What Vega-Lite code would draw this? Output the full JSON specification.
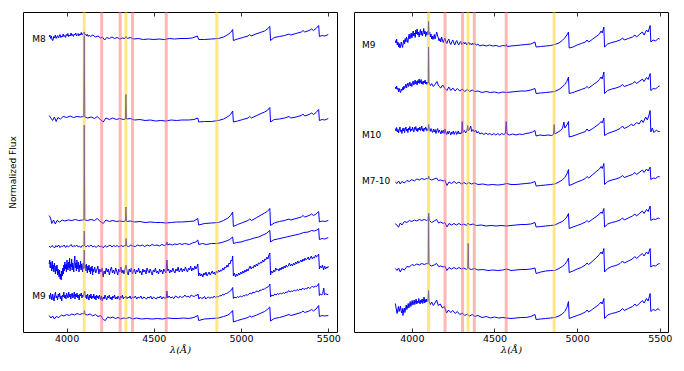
{
"$schema":"https://vega.github.io/schema/vega-lite/v6.json",
"background":"white",
"padding":{"left":7,"top":10,"right":5,"bottom":5},
"spacing":17,
"bounds":"flush",
"config":{"view":{"stroke":"black","strokeWidth":1},"font":"DejaVu Sans"},
"datasets":{
"bands":[{"w":4101,"k":"H"},{"w":4340,"k":"H"},{"w":4861,"k":"H"},{"w":4201,"k":"X"},{"w":4307,"k":"X"},{"w":4378,"k":"X"},{"w":4571,"k":"X"}],
"labL":[{"t":"M8","w":3880,"f":293.3},{"t":"M9","w":3880,"f":35.7}],
"labR":[{"t":"M9","w":3698,"f":286.7},{"t":"M10","w":3698,"f":196.7},{"t":"M7-10","w":3698,"f":151}],
"L":[
{"s":1,"w":3900,"f":295},{"s":1,"w":3904,"f":297},{"s":1,"w":3909,"f":293.5},{"s":1,"w":3913,"f":296},{"s":1,"w":3917,"f":292},{"s":1,"w":3922,"f":291.5},{"s":1,"w":3926,"f":295.5},{"s":1,"w":3931,"f":294},{"s":1,"w":3935,"f":297},{"s":1,"w":3940,"f":293.5},{"s":1,"w":3944,"f":295},{"s":1,"w":3949,"f":296.5},{"s":1,"w":3953,"f":294},{"s":1,"w":3958,"f":295.5},{"s":1,"w":3962,"f":297.5},{"s":1,"w":3967,"f":294.5},{"s":1,"w":3971,"f":296},{"s":1,"w":3976,"f":295},{"s":1,"w":3980,"f":298},{"s":1,"w":3985,"f":295.5},{"s":1,"w":3989,"f":296.5},{"s":1,"w":3994,"f":294.5},{"s":1,"w":3998,"f":297.5},{"s":1,"w":4003,"f":296},{"s":1,"w":4007,"f":298.5},{"s":1,"w":4012,"f":295.5},{"s":1,"w":4016,"f":297},{"s":1,"w":4021,"f":296},{"s":1,"w":4025,"f":299},{"s":1,"w":4030,"f":296.5},{"s":1,"w":4034,"f":297.5},{"s":1,"w":4039,"f":295.5},{"s":1,"w":4043,"f":298},{"s":1,"w":4048,"f":297},{"s":1,"w":4052,"f":299},{"s":1,"w":4057,"f":296},{"s":1,"w":4061,"f":297.5},{"s":1,"w":4066,"f":298.5},{"s":1,"w":4070,"f":296},{"s":1,"w":4075,"f":298},{"s":1,"w":4079,"f":297},{"s":1,"w":4084,"f":299.5},{"s":1,"w":4088,"f":297},{"s":1,"w":4093,"f":298},{"s":1,"w":4097,"f":299.5},{"s":1,"w":4101,"f":300},{"s":1,"w":4105,"f":297},{"s":1,"w":4110,"f":298},{"s":1,"w":4114,"f":296},{"s":1,"w":4119,"f":297.5},{"s":1,"w":4124,"f":295.5},{"s":1,"w":4130,"f":297},{"s":1,"w":4137,"f":295.5},{"s":1,"w":4150,"f":297},{"s":1,"w":4165,"f":295},{"s":1,"w":4180,"f":296},{"s":1,"w":4195,"f":294},{"s":1,"w":4205,"f":295},{"s":1,"w":4218,"f":292},{"s":1,"w":4230,"f":294.5},{"s":1,"w":4245,"f":293.5},{"s":1,"w":4260,"f":295},{"s":1,"w":4275,"f":293.5},{"s":1,"w":4290,"f":294.5},{"s":1,"w":4305,"f":293},{"s":1,"w":4320,"f":294},{"s":1,"w":4335,"f":293.5},{"s":1,"w":4341,"f":295.5},{"s":1,"w":4348,"f":293.5},{"s":1,"w":4365,"f":294.5},{"s":1,"w":4385,"f":293},{"s":1,"w":4410,"f":293.5},{"s":1,"w":4440,"f":292.5},{"s":1,"w":4470,"f":293},{"s":1,"w":4500,"f":292.5},{"s":1,"w":4530,"f":293},{"s":1,"w":4560,"f":292.5},{"s":1,"w":4590,"f":293.5},{"s":1,"w":4620,"f":293},{"s":1,"w":4650,"f":293.5},{"s":1,"w":4690,"f":293.5},{"s":1,"w":4720,"f":294},{"s":1,"w":4750,"f":296},{"s":1,"w":4757,"f":292.5},{"s":1,"w":4790,"f":292.5},{"s":1,"w":4830,"f":293},{"s":1,"w":4870,"f":293.5},{"s":1,"w":4900,"f":295},{"s":1,"w":4925,"f":297.5},{"s":1,"w":4940,"f":299.5},{"s":1,"w":4952,"f":302.5},{"s":1,"w":4956,"f":291.5},{"s":1,"w":4980,"f":293},{"s":1,"w":5010,"f":294.5},{"s":1,"w":5040,"f":296},{"s":1,"w":5050,"f":297.5},{"s":1,"w":5058,"f":296},{"s":1,"w":5085,"f":298},{"s":1,"w":5110,"f":299.5},{"s":1,"w":5135,"f":301},{"s":1,"w":5150,"f":303},{"s":1,"w":5165,"f":305.5},{"s":1,"w":5169,"f":291.5},{"s":1,"w":5190,"f":294.5},{"s":1,"w":5220,"f":295.5},{"s":1,"w":5250,"f":296.5},{"s":1,"w":5275,"f":298},{"s":1,"w":5285,"f":297},{"s":1,"w":5315,"f":298.5},{"s":1,"w":5345,"f":300},{"s":1,"w":5355,"f":301.5},{"s":1,"w":5365,"f":300},{"s":1,"w":5390,"f":301.5},{"s":1,"w":5405,"f":303},{"s":1,"w":5415,"f":301.5},{"s":1,"w":5430,"f":303.5},{"s":1,"w":5445,"f":306.5},{"s":1,"w":5449,"f":295.5},{"s":1,"w":5465,"f":296.5},{"s":1,"w":5480,"f":296},{"s":1,"w":5500,"f":297.5},
{"s":2,"w":3900,"f":216.5},{"s":2,"w":3910,"f":214},{"s":2,"w":3920,"f":211.5},{"s":2,"w":3930,"f":215},{"s":2,"w":3940,"f":210.5},{"s":2,"w":3950,"f":214.5},{"s":2,"w":3965,"f":213},{"s":2,"w":3980,"f":215.5},{"s":2,"w":4000,"f":214.5},{"s":2,"w":4020,"f":216},{"s":2,"w":4040,"f":214.5},{"s":2,"w":4060,"f":215.5},{"s":2,"w":4080,"f":215},{"s":2,"w":4098,"f":215.5},{"s":2,"w":4101,"f":296.5},{"s":2,"w":4104,"f":215},{"s":2,"w":4120,"f":214},{"s":2,"w":4140,"f":215},{"s":2,"w":4160,"f":213.5},{"s":2,"w":4175,"f":215.5},{"s":2,"w":4190,"f":213},{"s":2,"w":4210,"f":210},{"s":2,"w":4225,"f":214},{"s":2,"w":4245,"f":212.5},{"s":2,"w":4265,"f":214},{"s":2,"w":4285,"f":212.5},{"s":2,"w":4305,"f":213.5},{"s":2,"w":4325,"f":212.5},{"s":2,"w":4337,"f":213},{"s":2,"w":4340,"f":237.5},{"s":2,"w":4343,"f":213},{"s":2,"w":4365,"f":213.5},{"s":2,"w":4390,"f":212},{"s":2,"w":4420,"f":212.5},{"s":2,"w":4450,"f":211.5},{"s":2,"w":4480,"f":212},{"s":2,"w":4510,"f":211},{"s":2,"w":4540,"f":211.5},{"s":2,"w":4570,"f":211},{"s":2,"w":4600,"f":212},{"s":2,"w":4630,"f":211.5},{"s":2,"w":4660,"f":212},{"s":2,"w":4700,"f":212},{"s":2,"w":4730,"f":212.5},{"s":2,"w":4752,"f":214},{"s":2,"w":4757,"f":210},{"s":2,"w":4790,"f":210.5},{"s":2,"w":4830,"f":210.5},{"s":2,"w":4870,"f":211.5},{"s":2,"w":4900,"f":213},{"s":2,"w":4925,"f":215.5},{"s":2,"w":4940,"f":217.5},{"s":2,"w":4952,"f":221},{"s":2,"w":4956,"f":210},{"s":2,"w":4980,"f":211},{"s":2,"w":5010,"f":212.5},{"s":2,"w":5040,"f":214},{"s":2,"w":5050,"f":215.5},{"s":2,"w":5060,"f":214},{"s":2,"w":5090,"f":216.5},{"s":2,"w":5115,"f":218.5},{"s":2,"w":5135,"f":220},{"s":2,"w":5150,"f":221.5},{"s":2,"w":5165,"f":224.5},{"s":2,"w":5169,"f":210},{"s":2,"w":5190,"f":212.5},{"s":2,"w":5220,"f":213},{"s":2,"w":5250,"f":214},{"s":2,"w":5275,"f":215.5},{"s":2,"w":5285,"f":214},{"s":2,"w":5315,"f":215},{"s":2,"w":5345,"f":216.5},{"s":2,"w":5355,"f":218},{"s":2,"w":5365,"f":216},{"s":2,"w":5390,"f":217.5},{"s":2,"w":5405,"f":219},{"s":2,"w":5415,"f":217.5},{"s":2,"w":5430,"f":219.5},{"s":2,"w":5445,"f":222.5},{"s":2,"w":5449,"f":211.5},{"s":2,"w":5465,"f":212.5},{"s":2,"w":5480,"f":212},{"s":2,"w":5500,"f":213.5},
{"s":3,"w":3900,"f":116.5},{"s":3,"w":3908,"f":114},{"s":3,"w":3915,"f":108.5},{"s":3,"w":3925,"f":112},{"s":3,"w":3935,"f":108},{"s":3,"w":3945,"f":111.5},{"s":3,"w":3960,"f":110},{"s":3,"w":3975,"f":112},{"s":3,"w":3990,"f":111},{"s":3,"w":4010,"f":112},{"s":3,"w":4030,"f":111.5},{"s":3,"w":4050,"f":112.5},{"s":3,"w":4070,"f":111.5},{"s":3,"w":4090,"f":112},{"s":3,"w":4099,"f":112},{"s":3,"w":4101,"f":207},{"s":3,"w":4104,"f":112},{"s":3,"w":4120,"f":111.5},{"s":3,"w":4140,"f":112.5},{"s":3,"w":4160,"f":111.5},{"s":3,"w":4175,"f":113.5},{"s":3,"w":4190,"f":111},{"s":3,"w":4210,"f":108.5},{"s":3,"w":4225,"f":112},{"s":3,"w":4245,"f":110.5},{"s":3,"w":4265,"f":111.5},{"s":3,"w":4285,"f":110.5},{"s":3,"w":4305,"f":111},{"s":3,"w":4325,"f":110.5},{"s":3,"w":4337,"f":111},{"s":3,"w":4340,"f":125},{"s":3,"w":4343,"f":110.5},{"s":3,"w":4365,"f":111},{"s":3,"w":4390,"f":110},{"s":3,"w":4420,"f":110.5},{"s":3,"w":4450,"f":109.5},{"s":3,"w":4480,"f":110},{"s":3,"w":4510,"f":109.5},{"s":3,"w":4540,"f":109.5},{"s":3,"w":4570,"f":109},{"s":3,"w":4600,"f":109.5},{"s":3,"w":4630,"f":110},{"s":3,"w":4660,"f":110},{"s":3,"w":4700,"f":110.5},{"s":3,"w":4730,"f":111},{"s":3,"w":4752,"f":113.5},{"s":3,"w":4757,"f":107},{"s":3,"w":4790,"f":108.5},{"s":3,"w":4830,"f":109},{"s":3,"w":4870,"f":109.5},{"s":3,"w":4900,"f":111.5},{"s":3,"w":4925,"f":114},{"s":3,"w":4940,"f":116.5},{"s":3,"w":4952,"f":120},{"s":3,"w":4956,"f":105.5},{"s":3,"w":4980,"f":107.5},{"s":3,"w":5010,"f":109.5},{"s":3,"w":5040,"f":111.5},{"s":3,"w":5050,"f":113},{"s":3,"w":5060,"f":111.5},{"s":3,"w":5090,"f":114.5},{"s":3,"w":5115,"f":117},{"s":3,"w":5135,"f":119},{"s":3,"w":5150,"f":120.5},{"s":3,"w":5165,"f":123.5},{"s":3,"w":5169,"f":106.5},{"s":3,"w":5190,"f":109},{"s":3,"w":5220,"f":110.5},{"s":3,"w":5250,"f":111.5},{"s":3,"w":5275,"f":113},{"s":3,"w":5285,"f":112},{"s":3,"w":5315,"f":113.5},{"s":3,"w":5345,"f":115},{"s":3,"w":5355,"f":116.5},{"s":3,"w":5365,"f":115},{"s":3,"w":5390,"f":116.5},{"s":3,"w":5405,"f":118},{"s":3,"w":5415,"f":116.5},{"s":3,"w":5430,"f":118},{"s":3,"w":5445,"f":120.5},{"s":3,"w":5449,"f":110},{"s":3,"w":5465,"f":111},{"s":3,"w":5480,"f":110.5},{"s":3,"w":5500,"f":111.5},
{"s":4,"w":3900,"f":86},{"s":4,"w":3908,"f":84.5},{"s":4,"w":3916,"f":86.5},{"s":4,"w":3923,"f":85.5},{"s":4,"w":3931,"f":84},{"s":4,"w":3938,"f":86.5},{"s":4,"w":3946,"f":85},{"s":4,"w":3954,"f":87},{"s":4,"w":3962,"f":84.5},{"s":4,"w":3970,"f":86},{"s":4,"w":3978,"f":85.5},{"s":4,"w":3986,"f":87},{"s":4,"w":3994,"f":84.5},{"s":4,"w":4002,"f":86.5},{"s":4,"w":4010,"f":85},{"s":4,"w":4018,"f":86},{"s":4,"w":4026,"f":87.5},{"s":4,"w":4034,"f":85},{"s":4,"w":4042,"f":86.5},{"s":4,"w":4050,"f":85.5},{"s":4,"w":4058,"f":87},{"s":4,"w":4066,"f":85},{"s":4,"w":4074,"f":86},{"s":4,"w":4082,"f":84.5},{"s":4,"w":4090,"f":86.5},{"s":4,"w":4096,"f":85.5},{"s":4,"w":4099,"f":86},{"s":4,"w":4101,"f":101},{"s":4,"w":4104,"f":86},{"s":4,"w":4112,"f":85},{"s":4,"w":4120,"f":86.5},{"s":4,"w":4130,"f":85.5},{"s":4,"w":4140,"f":87},{"s":4,"w":4150,"f":85},{"s":4,"w":4160,"f":86},{"s":4,"w":4170,"f":84.5},{"s":4,"w":4180,"f":86.5},{"s":4,"w":4190,"f":85.5},{"s":4,"w":4200,"f":86},{"s":4,"w":4210,"f":84},{"s":4,"w":4220,"f":86.5},{"s":4,"w":4230,"f":85},{"s":4,"w":4240,"f":86},{"s":4,"w":4250,"f":87},{"s":4,"w":4260,"f":85},{"s":4,"w":4270,"f":86.5},{"s":4,"w":4280,"f":85.5},{"s":4,"w":4290,"f":86.5},{"s":4,"w":4300,"f":85},{"s":4,"w":4312,"f":86.5},{"s":4,"w":4324,"f":85.5},{"s":4,"w":4334,"f":86.5},{"s":4,"w":4338,"f":86},{"s":4,"w":4341,"f":93.5},{"s":4,"w":4344,"f":86},{"s":4,"w":4356,"f":85.5},{"s":4,"w":4368,"f":87},{"s":4,"w":4380,"f":86},{"s":4,"w":4394,"f":85.5},{"s":4,"w":4408,"f":87},{"s":4,"w":4420,"f":86},{"s":4,"w":4434,"f":87},{"s":4,"w":4448,"f":85.5},{"s":4,"w":4462,"f":87},{"s":4,"w":4476,"f":86},{"s":4,"w":4490,"f":87.5},{"s":4,"w":4504,"f":86.5},{"s":4,"w":4518,"f":87},{"s":4,"w":4532,"f":86},{"s":4,"w":4546,"f":87.5},{"s":4,"w":4560,"f":86.5},{"s":4,"w":4572,"f":87.5},{"s":4,"w":4575,"f":90},{"s":4,"w":4578,"f":87},{"s":4,"w":4592,"f":88},{"s":4,"w":4606,"f":87},{"s":4,"w":4620,"f":88},{"s":4,"w":4634,"f":87.5},{"s":4,"w":4648,"f":88.5},{"s":4,"w":4662,"f":87.5},{"s":4,"w":4676,"f":88.5},{"s":4,"w":4690,"f":88},{"s":4,"w":4704,"f":87.5},{"s":4,"w":4720,"f":89},{"s":4,"w":4740,"f":90},{"s":4,"w":4752,"f":92},{"s":4,"w":4757,"f":87.5},{"s":4,"w":4780,"f":88.5},{"s":4,"w":4800,"f":87.5},{"s":4,"w":4830,"f":88.5},{"s":4,"w":4860,"f":88.5},{"s":4,"w":4890,"f":89.5},{"s":4,"w":4915,"f":91},{"s":4,"w":4935,"f":92.5},{"s":4,"w":4952,"f":95},{"s":4,"w":4956,"f":88.5},{"s":4,"w":4975,"f":89.5},{"s":4,"w":5000,"f":90},{"s":4,"w":5025,"f":91.5},{"s":4,"w":5050,"f":92.5},{"s":4,"w":5075,"f":94},{"s":4,"w":5100,"f":95},{"s":4,"w":5125,"f":97},{"s":4,"w":5145,"f":98.5},{"s":4,"w":5165,"f":101.5},{"s":4,"w":5169,"f":90},{"s":4,"w":5185,"f":92},{"s":4,"w":5210,"f":93},{"s":4,"w":5235,"f":94},{"s":4,"w":5260,"f":95},{"s":4,"w":5285,"f":96},{"s":4,"w":5310,"f":97},{"s":4,"w":5335,"f":98},{"s":4,"w":5360,"f":99.5},{"s":4,"w":5385,"f":100},{"s":4,"w":5405,"f":101.5},{"s":4,"w":5420,"f":101},{"s":4,"w":5435,"f":102},{"s":4,"w":5445,"f":103.5},{"s":4,"w":5449,"f":92.5},{"s":4,"w":5465,"f":93.5},{"s":4,"w":5480,"f":93},{"s":4,"w":5500,"f":94.5},
{"s":5,"w":3900,"f":68},{"s":5,"w":3903,"f":72},{"s":5,"w":3906,"f":64},{"s":5,"w":3909,"f":70},{"s":5,"w":3912,"f":66},{"s":5,"w":3915,"f":61},{"s":5,"w":3918,"f":71},{"s":5,"w":3921,"f":63},{"s":5,"w":3924,"f":67},{"s":5,"w":3927,"f":60},{"s":5,"w":3930,"f":69},{"s":5,"w":3933,"f":64},{"s":5,"w":3936,"f":58},{"s":5,"w":3939,"f":66},{"s":5,"w":3942,"f":61},{"s":5,"w":3945,"f":67},{"s":5,"w":3948,"f":57},{"s":5,"w":3951,"f":63},{"s":5,"w":3954,"f":59},{"s":5,"w":3957,"f":55},{"s":5,"w":3960,"f":62},{"s":5,"w":3963,"f":53},{"s":5,"w":3966,"f":58},{"s":5,"w":3969,"f":52},{"s":5,"w":3972,"f":61},{"s":5,"w":3975,"f":56},{"s":5,"w":3978,"f":64},{"s":5,"w":3981,"f":58},{"s":5,"w":3984,"f":67},{"s":5,"w":3987,"f":61},{"s":5,"w":3990,"f":70},{"s":5,"w":3993,"f":63},{"s":5,"w":3996,"f":68},{"s":5,"w":3999,"f":60},{"s":5,"w":4002,"f":72},{"s":5,"w":4005,"f":65},{"s":5,"w":4008,"f":62},{"s":5,"w":4011,"f":70},{"s":5,"w":4014,"f":64},{"s":5,"w":4017,"f":74},{"s":5,"w":4020,"f":61},{"s":5,"w":4023,"f":68},{"s":5,"w":4026,"f":65},{"s":5,"w":4029,"f":73},{"s":5,"w":4032,"f":62},{"s":5,"w":4035,"f":69},{"s":5,"w":4038,"f":66},{"s":5,"w":4041,"f":60},{"s":5,"w":4044,"f":71},{"s":5,"w":4047,"f":76},{"s":5,"w":4050,"f":64},{"s":5,"w":4053,"f":69},{"s":5,"w":4056,"f":61},{"s":5,"w":4059,"f":72},{"s":5,"w":4062,"f":66},{"s":5,"w":4065,"f":63},{"s":5,"w":4068,"f":70},{"s":5,"w":4071,"f":60},{"s":5,"w":4074,"f":67},{"s":5,"w":4077,"f":64},{"s":5,"w":4080,"f":71},{"s":5,"w":4083,"f":62},{"s":5,"w":4086,"f":68},{"s":5,"w":4089,"f":65},{"s":5,"w":4092,"f":60},{"s":5,"w":4095,"f":69},{"s":5,"w":4098,"f":63},{"s":5,"w":4101,"f":82},{"s":5,"w":4104,"f":64},{"s":5,"w":4107,"f":67},{"s":5,"w":4110,"f":61},{"s":5,"w":4113,"f":68},{"s":5,"w":4116,"f":63},{"s":5,"w":4119,"f":59},{"s":5,"w":4122,"f":66},{"s":5,"w":4125,"f":62},{"s":5,"w":4128,"f":67},{"s":5,"w":4131,"f":60},{"s":5,"w":4134,"f":64},{"s":5,"w":4137,"f":58},{"s":5,"w":4140,"f":65},{"s":5,"w":4143,"f":61},{"s":5,"w":4146,"f":66},{"s":5,"w":4149,"f":57},{"s":5,"w":4152,"f":63},{"s":5,"w":4155,"f":60},{"s":5,"w":4161,"f":65},{"s":5,"w":4167,"f":59},{"s":5,"w":4173,"f":62},{"s":5,"w":4179,"f":66},{"s":5,"w":4185,"f":58},{"s":5,"w":4191,"f":63},{"s":5,"w":4197,"f":60},{"s":5,"w":4203,"f":64},{"s":5,"w":4209,"f":55},{"s":5,"w":4215,"f":61},{"s":5,"w":4221,"f":58},{"s":5,"w":4227,"f":64},{"s":5,"w":4233,"f":60},{"s":5,"w":4239,"f":63},{"s":5,"w":4245,"f":57},{"s":5,"w":4251,"f":62},{"s":5,"w":4257,"f":65},{"s":5,"w":4263,"f":59},{"s":5,"w":4269,"f":62},{"s":5,"w":4275,"f":58},{"s":5,"w":4281,"f":64},{"s":5,"w":4287,"f":61},{"s":5,"w":4293,"f":57},{"s":5,"w":4299,"f":63},{"s":5,"w":4305,"f":60},{"s":5,"w":4311,"f":65},{"s":5,"w":4317,"f":59},{"s":5,"w":4323,"f":62},{"s":5,"w":4329,"f":58},{"s":5,"w":4335,"f":63},{"s":5,"w":4341,"f":67},{"s":5,"w":4347,"f":60},{"s":5,"w":4353,"f":57},{"s":5,"w":4359,"f":63},{"s":5,"w":4365,"f":60},{"s":5,"w":4371,"f":64},{"s":5,"w":4377,"f":58},{"s":5,"w":4383,"f":61},{"s":5,"w":4389,"f":63},{"s":5,"w":4395,"f":58},{"s":5,"w":4401,"f":62},{"s":5,"w":4407,"f":60},{"s":5,"w":4413,"f":64},{"s":5,"w":4419,"f":59},{"s":5,"w":4425,"f":61},{"s":5,"w":4431,"f":57},{"s":5,"w":4437,"f":63},{"s":5,"w":4443,"f":60},{"s":5,"w":4449,"f":62},{"s":5,"w":4455,"f":58},{"s":5,"w":4461,"f":64},{"s":5,"w":4467,"f":61},{"s":5,"w":4473,"f":59},{"s":5,"w":4479,"f":63},{"s":5,"w":4485,"f":60},{"s":5,"w":4491,"f":57},{"s":5,"w":4497,"f":62},{"s":5,"w":4503,"f":60},{"s":5,"w":4509,"f":64},{"s":5,"w":4515,"f":59},{"s":5,"w":4521,"f":61},{"s":5,"w":4527,"f":58},{"s":5,"w":4533,"f":63},{"s":5,"w":4539,"f":60},{"s":5,"w":4545,"f":62},{"s":5,"w":4551,"f":58},{"s":5,"w":4557,"f":63},{"s":5,"w":4563,"f":61},{"s":5,"w":4569,"f":59},{"s":5,"w":4575,"f":72},{"s":5,"w":4579,"f":61},{"s":5,"w":4585,"f":63},{"s":5,"w":4591,"f":59},{"s":5,"w":4597,"f":62},{"s":5,"w":4603,"f":60},{"s":5,"w":4609,"f":64},{"s":5,"w":4615,"f":61},{"s":5,"w":4621,"f":59},{"s":5,"w":4627,"f":63},{"s":5,"w":4633,"f":61},{"s":5,"w":4639,"f":65},{"s":5,"w":4645,"f":60},{"s":5,"w":4651,"f":62},{"s":5,"w":4657,"f":64},{"s":5,"w":4663,"f":60},{"s":5,"w":4669,"f":63},{"s":5,"w":4675,"f":61},{"s":5,"w":4681,"f":65},{"s":5,"w":4687,"f":62},{"s":5,"w":4693,"f":60},{"s":5,"w":4699,"f":64},{"s":5,"w":4705,"f":62},{"s":5,"w":4711,"f":66},{"s":5,"w":4717,"f":61},{"s":5,"w":4723,"f":64},{"s":5,"w":4729,"f":62},{"s":5,"w":4735,"f":66},{"s":5,"w":4741,"f":63},{"s":5,"w":4747,"f":65},{"s":5,"w":4752,"f":68},{"s":5,"w":4757,"f":56},{"s":5,"w":4763,"f":59},{"s":5,"w":4769,"f":56},{"s":5,"w":4775,"f":58},{"s":5,"w":4781,"f":55},{"s":5,"w":4787,"f":59},{"s":5,"w":4793,"f":57},{"s":5,"w":4799,"f":60},{"s":5,"w":4805,"f":56},{"s":5,"w":4811,"f":58},{"s":5,"w":4817,"f":60},{"s":5,"w":4823,"f":57},{"s":5,"w":4829,"f":59},{"s":5,"w":4835,"f":61},{"s":5,"w":4841,"f":58},{"s":5,"w":4847,"f":60},{"s":5,"w":4853,"f":57},{"s":5,"w":4859,"f":61},{"s":5,"w":4865,"f":59},{"s":5,"w":4871,"f":62},{"s":5,"w":4877,"f":60},{"s":5,"w":4883,"f":62},{"s":5,"w":4889,"f":61},{"s":5,"w":4895,"f":64},{"s":5,"w":4901,"f":62},{"s":5,"w":4907,"f":65},{"s":5,"w":4913,"f":64},{"s":5,"w":4919,"f":67},{"s":5,"w":4925,"f":65},{"s":5,"w":4931,"f":69},{"s":5,"w":4937,"f":68},{"s":5,"w":4943,"f":72},{"s":5,"w":4948,"f":71},{"s":5,"w":4952,"f":76},{"s":5,"w":4956,"f":56},{"s":5,"w":4962,"f":59},{"s":5,"w":4968,"f":55},{"s":5,"w":4974,"f":58},{"s":5,"w":4980,"f":56},{"s":5,"w":4986,"f":59},{"s":5,"w":4992,"f":57},{"s":5,"w":4998,"f":60},{"s":5,"w":5004,"f":58},{"s":5,"w":5010,"f":61},{"s":5,"w":5016,"f":59},{"s":5,"w":5022,"f":62},{"s":5,"w":5028,"f":60},{"s":5,"w":5034,"f":63},{"s":5,"w":5040,"f":61},{"s":5,"w":5046,"f":64},{"s":5,"w":5052,"f":66},{"s":5,"w":5058,"f":63},{"s":5,"w":5064,"f":65},{"s":5,"w":5070,"f":64},{"s":5,"w":5076,"f":67},{"s":5,"w":5082,"f":65},{"s":5,"w":5088,"f":68},{"s":5,"w":5094,"f":66},{"s":5,"w":5100,"f":69},{"s":5,"w":5106,"f":68},{"s":5,"w":5112,"f":70},{"s":5,"w":5118,"f":69},{"s":5,"w":5124,"f":72},{"s":5,"w":5130,"f":70},{"s":5,"w":5136,"f":73},{"s":5,"w":5142,"f":72},{"s":5,"w":5148,"f":75},{"s":5,"w":5154,"f":73},{"s":5,"w":5160,"f":77},{"s":5,"w":5165,"f":79},{"s":5,"w":5169,"f":57},{"s":5,"w":5175,"f":61},{"s":5,"w":5181,"f":59},{"s":5,"w":5187,"f":62},{"s":5,"w":5193,"f":60},{"s":5,"w":5199,"f":64},{"s":5,"w":5205,"f":62},{"s":5,"w":5211,"f":63},{"s":5,"w":5217,"f":61},{"s":5,"w":5223,"f":64},{"s":5,"w":5229,"f":62},{"s":5,"w":5235,"f":65},{"s":5,"w":5241,"f":63},{"s":5,"w":5247,"f":66},{"s":5,"w":5253,"f":64},{"s":5,"w":5259,"f":67},{"s":5,"w":5265,"f":65},{"s":5,"w":5271,"f":66},{"s":5,"w":5277,"f":69},{"s":5,"w":5283,"f":66},{"s":5,"w":5289,"f":68},{"s":5,"w":5295,"f":66},{"s":5,"w":5301,"f":69},{"s":5,"w":5307,"f":67},{"s":5,"w":5313,"f":70},{"s":5,"w":5319,"f":68},{"s":5,"w":5325,"f":71},{"s":5,"w":5331,"f":69},{"s":5,"w":5337,"f":70},{"s":5,"w":5343,"f":72},{"s":5,"w":5349,"f":70},{"s":5,"w":5355,"f":73},{"s":5,"w":5361,"f":71},{"s":5,"w":5367,"f":74},{"s":5,"w":5373,"f":72},{"s":5,"w":5379,"f":73},{"s":5,"w":5385,"f":75},{"s":5,"w":5391,"f":72},{"s":5,"w":5397,"f":74},{"s":5,"w":5403,"f":76},{"s":5,"w":5409,"f":73},{"s":5,"w":5415,"f":75},{"s":5,"w":5421,"f":74},{"s":5,"w":5427,"f":77},{"s":5,"w":5433,"f":75},{"s":5,"w":5439,"f":76},{"s":5,"w":5445,"f":78},{"s":5,"w":5449,"f":63},{"s":5,"w":5455,"f":66},{"s":5,"w":5461,"f":64},{"s":5,"w":5467,"f":67},{"s":5,"w":5473,"f":62},{"s":5,"w":5479,"f":66},{"s":5,"w":5485,"f":63},{"s":5,"w":5491,"f":65},{"s":5,"w":5496,"f":64},{"s":5,"w":5500,"f":66},
{"s":6,"w":3900,"f":37},{"s":6,"w":3904,"f":33},{"s":6,"w":3908,"f":39},{"s":6,"w":3912,"f":35},{"s":6,"w":3916,"f":32},{"s":6,"w":3920,"f":38},{"s":6,"w":3924,"f":34},{"s":6,"w":3928,"f":31},{"s":6,"w":3932,"f":37},{"s":6,"w":3936,"f":40},{"s":6,"w":3940,"f":34},{"s":6,"w":3944,"f":36},{"s":6,"w":3948,"f":32},{"s":6,"w":3952,"f":38},{"s":6,"w":3956,"f":35},{"s":6,"w":3960,"f":39},{"s":6,"w":3964,"f":33},{"s":6,"w":3968,"f":36},{"s":6,"w":3972,"f":31},{"s":6,"w":3976,"f":37},{"s":6,"w":3980,"f":35},{"s":6,"w":3984,"f":40},{"s":6,"w":3988,"f":34},{"s":6,"w":3992,"f":37},{"s":6,"w":3996,"f":33},{"s":6,"w":4000,"f":39},{"s":6,"w":4004,"f":36},{"s":6,"w":4008,"f":34},{"s":6,"w":4012,"f":40},{"s":6,"w":4016,"f":35},{"s":6,"w":4020,"f":38},{"s":6,"w":4024,"f":33},{"s":6,"w":4028,"f":37},{"s":6,"w":4032,"f":39},{"s":6,"w":4036,"f":34},{"s":6,"w":4040,"f":36},{"s":6,"w":4044,"f":40},{"s":6,"w":4048,"f":33},{"s":6,"w":4052,"f":38},{"s":6,"w":4056,"f":35},{"s":6,"w":4060,"f":39},{"s":6,"w":4064,"f":34},{"s":6,"w":4068,"f":37},{"s":6,"w":4072,"f":32},{"s":6,"w":4076,"f":38},{"s":6,"w":4080,"f":36},{"s":6,"w":4084,"f":39},{"s":6,"w":4088,"f":34},{"s":6,"w":4092,"f":37},{"s":6,"w":4096,"f":35},{"s":6,"w":4100,"f":39},{"s":6,"w":4104,"f":41},{"s":6,"w":4108,"f":34},{"s":6,"w":4112,"f":37},{"s":6,"w":4116,"f":33},{"s":6,"w":4120,"f":38},{"s":6,"w":4124,"f":35},{"s":6,"w":4128,"f":32},{"s":6,"w":4132,"f":37},{"s":6,"w":4136,"f":34},{"s":6,"w":4140,"f":38},{"s":6,"w":4144,"f":33},{"s":6,"w":4148,"f":36},{"s":6,"w":4152,"f":34},{"s":6,"w":4156,"f":38},{"s":6,"w":4160,"f":33},{"s":6,"w":4164,"f":36},{"s":6,"w":4168,"f":32},{"s":6,"w":4172,"f":37},{"s":6,"w":4176,"f":34},{"s":6,"w":4180,"f":36},{"s":6,"w":4184,"f":33},{"s":6,"w":4188,"f":37},{"s":6,"w":4192,"f":35},{"s":6,"w":4196,"f":32},{"s":6,"w":4200,"f":36},{"s":6,"w":4205,"f":31},{"s":6,"w":4210,"f":35},{"s":6,"w":4215,"f":33},{"s":6,"w":4220,"f":37},{"s":6,"w":4225,"f":34},{"s":6,"w":4230,"f":32},{"s":6,"w":4235,"f":36},{"s":6,"w":4240,"f":34},{"s":6,"w":4245,"f":37},{"s":6,"w":4250,"f":33},{"s":6,"w":4255,"f":35},{"s":6,"w":4260,"f":32},{"s":6,"w":4265,"f":36},{"s":6,"w":4270,"f":34},{"s":6,"w":4275,"f":37},{"s":6,"w":4280,"f":33},{"s":6,"w":4285,"f":35},{"s":6,"w":4290,"f":33},{"s":6,"w":4295,"f":36},{"s":6,"w":4300,"f":34},{"s":6,"w":4305,"f":32},{"s":6,"w":4310,"f":36},{"s":6,"w":4315,"f":34},{"s":6,"w":4320,"f":37},{"s":6,"w":4325,"f":33},{"s":6,"w":4330,"f":35},{"s":6,"w":4335,"f":34},{"s":6,"w":4340,"f":36},{"s":6,"w":4346,"f":33},{"s":6,"w":4352,"f":35},{"s":6,"w":4358,"f":34},{"s":6,"w":4364,"f":36},{"s":6,"w":4370,"f":33},{"s":6,"w":4378,"f":35},{"s":6,"w":4386,"f":34},{"s":6,"w":4394,"f":36},{"s":6,"w":4402,"f":33},{"s":6,"w":4410,"f":35},{"s":6,"w":4418,"f":34},{"s":6,"w":4426,"f":36},{"s":6,"w":4434,"f":33},{"s":6,"w":4442,"f":35},{"s":6,"w":4450,"f":34},{"s":6,"w":4458,"f":33},{"s":6,"w":4466,"f":35},{"s":6,"w":4474,"f":34},{"s":6,"w":4482,"f":36},{"s":6,"w":4490,"f":33},{"s":6,"w":4498,"f":35},{"s":6,"w":4506,"f":34},{"s":6,"w":4514,"f":33},{"s":6,"w":4522,"f":35},{"s":6,"w":4530,"f":34},{"s":6,"w":4538,"f":36},{"s":6,"w":4546,"f":33},{"s":6,"w":4554,"f":35},{"s":6,"w":4562,"f":34},{"s":6,"w":4571,"f":34},{"s":6,"w":4575,"f":41},{"s":6,"w":4579,"f":34},{"s":6,"w":4588,"f":36},{"s":6,"w":4597,"f":34},{"s":6,"w":4606,"f":35},{"s":6,"w":4615,"f":33.5},{"s":6,"w":4624,"f":36},{"s":6,"w":4633,"f":35},{"s":6,"w":4642,"f":34},{"s":6,"w":4651,"f":36},{"s":6,"w":4660,"f":34.5},{"s":6,"w":4669,"f":35},{"s":6,"w":4678,"f":37},{"s":6,"w":4687,"f":35},{"s":6,"w":4696,"f":36},{"s":6,"w":4705,"f":34.5},{"s":6,"w":4714,"f":37},{"s":6,"w":4723,"f":36},{"s":6,"w":4732,"f":35.5},{"s":6,"w":4741,"f":37},{"s":6,"w":4748,"f":36.5},{"s":6,"w":4753,"f":38},{"s":6,"w":4758,"f":33},{"s":6,"w":4766,"f":35},{"s":6,"w":4774,"f":33.5},{"s":6,"w":4782,"f":34},{"s":6,"w":4790,"f":35.5},{"s":6,"w":4798,"f":33},{"s":6,"w":4806,"f":34.5},{"s":6,"w":4814,"f":35},{"s":6,"w":4822,"f":33.5},{"s":6,"w":4830,"f":35},{"s":6,"w":4838,"f":34},{"s":6,"w":4846,"f":36},{"s":6,"w":4854,"f":34.5},{"s":6,"w":4862,"f":35.5},{"s":6,"w":4870,"f":35},{"s":6,"w":4878,"f":36.5},{"s":6,"w":4886,"f":36},{"s":6,"w":4894,"f":37.5},{"s":6,"w":4902,"f":37},{"s":6,"w":4910,"f":38.5},{"s":6,"w":4918,"f":38.5},{"s":6,"w":4926,"f":39.5},{"s":6,"w":4934,"f":40.5},{"s":6,"w":4942,"f":41.5},{"s":6,"w":4948,"f":43},{"s":6,"w":4952,"f":44.5},{"s":6,"w":4956,"f":33.5},{"s":6,"w":4964,"f":35},{"s":6,"w":4972,"f":34},{"s":6,"w":4980,"f":35.5},{"s":6,"w":4988,"f":34.5},{"s":6,"w":4996,"f":36},{"s":6,"w":5004,"f":35},{"s":6,"w":5012,"f":36.5},{"s":6,"w":5020,"f":36},{"s":6,"w":5028,"f":37.5},{"s":6,"w":5036,"f":36.5},{"s":6,"w":5044,"f":38},{"s":6,"w":5052,"f":39},{"s":6,"w":5060,"f":38},{"s":6,"w":5068,"f":40},{"s":6,"w":5076,"f":39},{"s":6,"w":5084,"f":40.5},{"s":6,"w":5092,"f":41},{"s":6,"w":5100,"f":40},{"s":6,"w":5108,"f":42},{"s":6,"w":5116,"f":41.5},{"s":6,"w":5124,"f":43},{"s":6,"w":5132,"f":42.5},{"s":6,"w":5140,"f":44},{"s":6,"w":5148,"f":44.5},{"s":6,"w":5156,"f":45.5},{"s":6,"w":5162,"f":46.5},{"s":6,"w":5165,"f":48},{"s":6,"w":5169,"f":35},{"s":6,"w":5177,"f":37},{"s":6,"w":5185,"f":36},{"s":6,"w":5193,"f":38},{"s":6,"w":5201,"f":37},{"s":6,"w":5209,"f":38.5},{"s":6,"w":5217,"f":37.5},{"s":6,"w":5225,"f":39},{"s":6,"w":5233,"f":38},{"s":6,"w":5241,"f":39.5},{"s":6,"w":5249,"f":38.5},{"s":6,"w":5257,"f":40},{"s":6,"w":5265,"f":39.5},{"s":6,"w":5273,"f":41.5},{"s":6,"w":5281,"f":40},{"s":6,"w":5289,"f":41},{"s":6,"w":5297,"f":40.5},{"s":6,"w":5305,"f":42},{"s":6,"w":5313,"f":41},{"s":6,"w":5321,"f":42.5},{"s":6,"w":5329,"f":41.5},{"s":6,"w":5337,"f":43},{"s":6,"w":5345,"f":42},{"s":6,"w":5353,"f":44},{"s":6,"w":5361,"f":42.5},{"s":6,"w":5369,"f":43.5},{"s":6,"w":5377,"f":43},{"s":6,"w":5385,"f":45},{"s":6,"w":5393,"f":43.5},{"s":6,"w":5401,"f":44.5},{"s":6,"w":5409,"f":46},{"s":6,"w":5417,"f":44.5},{"s":6,"w":5425,"f":46},{"s":6,"w":5433,"f":45.5},{"s":6,"w":5440,"f":47},{"s":6,"w":5445,"f":48.5},{"s":6,"w":5449,"f":36.5},{"s":6,"w":5456,"f":38},{"s":6,"w":5463,"f":37},{"s":6,"w":5468,"f":38.5},{"s":6,"w":5474,"f":44},{"s":6,"w":5478,"f":37},{"s":6,"w":5485,"f":38.5},{"s":6,"w":5492,"f":37.5},{"s":6,"w":5500,"f":37.5},
{"s":7,"w":3900,"f":16.5},{"s":7,"w":3910,"f":14},{"s":7,"w":3920,"f":16},{"s":7,"w":3930,"f":13},{"s":7,"w":3940,"f":15.5},{"s":7,"w":3955,"f":14.5},{"s":7,"w":3970,"f":17},{"s":7,"w":3985,"f":16},{"s":7,"w":4000,"f":17.5},{"s":7,"w":4015,"f":16.5},{"s":7,"w":4030,"f":18},{"s":7,"w":4045,"f":17},{"s":7,"w":4060,"f":18.5},{"s":7,"w":4075,"f":17.5},{"s":7,"w":4090,"f":18.5},{"s":7,"w":4099,"f":18},{"s":7,"w":4102,"f":21.5},{"s":7,"w":4106,"f":17.5},{"s":7,"w":4120,"f":17},{"s":7,"w":4135,"f":18},{"s":7,"w":4150,"f":16},{"s":7,"w":4165,"f":17.5},{"s":7,"w":4180,"f":15.5},{"s":7,"w":4195,"f":16.5},{"s":7,"w":4210,"f":12.5},{"s":7,"w":4222,"f":11.5},{"s":7,"w":4235,"f":15},{"s":7,"w":4250,"f":14},{"s":7,"w":4265,"f":15},{"s":7,"w":4280,"f":13.5},{"s":7,"w":4295,"f":14.5},{"s":7,"w":4310,"f":13},{"s":7,"w":4325,"f":14},{"s":7,"w":4340,"f":13.5},{"s":7,"w":4360,"f":14.5},{"s":7,"w":4380,"f":13},{"s":7,"w":4400,"f":14},{"s":7,"w":4430,"f":13},{"s":7,"w":4460,"f":13.5},{"s":7,"w":4490,"f":13},{"s":7,"w":4520,"f":13.5},{"s":7,"w":4550,"f":13},{"s":7,"w":4580,"f":14},{"s":7,"w":4610,"f":13.5},{"s":7,"w":4640,"f":13.5},{"s":7,"w":4670,"f":14},{"s":7,"w":4700,"f":13.5},{"s":7,"w":4730,"f":14.5},{"s":7,"w":4752,"f":16.5},{"s":7,"w":4757,"f":11.5},{"s":7,"w":4790,"f":13},{"s":7,"w":4830,"f":13.5},{"s":7,"w":4870,"f":14},{"s":7,"w":4900,"f":15.5},{"s":7,"w":4925,"f":17},{"s":7,"w":4940,"f":19},{"s":7,"w":4952,"f":21.5},{"s":7,"w":4956,"f":10},{"s":7,"w":4980,"f":11.5},{"s":7,"w":5010,"f":13},{"s":7,"w":5040,"f":14.5},{"s":7,"w":5050,"f":16},{"s":7,"w":5060,"f":15},{"s":7,"w":5090,"f":17},{"s":7,"w":5115,"f":19},{"s":7,"w":5135,"f":20.5},{"s":7,"w":5150,"f":22.5},{"s":7,"w":5165,"f":25},{"s":7,"w":5169,"f":11},{"s":7,"w":5190,"f":13.5},{"s":7,"w":5220,"f":14.5},{"s":7,"w":5250,"f":16},{"s":7,"w":5275,"f":17.5},{"s":7,"w":5285,"f":16.5},{"s":7,"w":5315,"f":18},{"s":7,"w":5345,"f":19.5},{"s":7,"w":5355,"f":21},{"s":7,"w":5365,"f":19.5},{"s":7,"w":5390,"f":21},{"s":7,"w":5405,"f":22.5},{"s":7,"w":5415,"f":21},{"s":7,"w":5430,"f":23},{"s":7,"w":5445,"f":26.5},{"s":7,"w":5449,"f":15.5},{"s":7,"w":5465,"f":16.5},{"s":7,"w":5480,"f":16},{"s":7,"w":5500,"f":16.5}
],
"R":[
{"s":1,"w":3900,"f":291.5},{"s":1,"w":3904,"f":289},{"s":1,"w":3908,"f":293},{"s":1,"w":3912,"f":287},{"s":1,"w":3916,"f":290},{"s":1,"w":3920,"f":285},{"s":1,"w":3924,"f":288.5},{"s":1,"w":3928,"f":284},{"s":1,"w":3932,"f":286},{"s":1,"w":3936,"f":290},{"s":1,"w":3940,"f":287},{"s":1,"w":3944,"f":284.5},{"s":1,"w":3948,"f":289},{"s":1,"w":3952,"f":292},{"s":1,"w":3956,"f":288},{"s":1,"w":3960,"f":293.5},{"s":1,"w":3964,"f":290},{"s":1,"w":3968,"f":295},{"s":1,"w":3972,"f":292},{"s":1,"w":3976,"f":289.5},{"s":1,"w":3980,"f":295},{"s":1,"w":3984,"f":298},{"s":1,"w":3988,"f":293},{"s":1,"w":3992,"f":296},{"s":1,"w":3996,"f":299},{"s":1,"w":4000,"f":294},{"s":1,"w":4004,"f":297},{"s":1,"w":4008,"f":301},{"s":1,"w":4012,"f":296},{"s":1,"w":4016,"f":299},{"s":1,"w":4020,"f":294.5},{"s":1,"w":4024,"f":302},{"s":1,"w":4028,"f":298},{"s":1,"w":4032,"f":303},{"s":1,"w":4036,"f":297},{"s":1,"w":4040,"f":300},{"s":1,"w":4044,"f":295},{"s":1,"w":4048,"f":299.5},{"s":1,"w":4052,"f":302.5},{"s":1,"w":4056,"f":297},{"s":1,"w":4060,"f":301},{"s":1,"w":4064,"f":296},{"s":1,"w":4068,"f":299},{"s":1,"w":4072,"f":303.5},{"s":1,"w":4076,"f":298},{"s":1,"w":4080,"f":301},{"s":1,"w":4084,"f":295.5},{"s":1,"w":4088,"f":300},{"s":1,"w":4092,"f":297},{"s":1,"w":4096,"f":301},{"s":1,"w":4099,"f":298},{"s":1,"w":4101,"f":310.5},{"s":1,"w":4104,"f":297},{"s":1,"w":4108,"f":300},{"s":1,"w":4112,"f":295},{"s":1,"w":4116,"f":298},{"s":1,"w":4120,"f":293},{"s":1,"w":4124,"f":296},{"s":1,"w":4128,"f":292.5},{"s":1,"w":4132,"f":295},{"s":1,"w":4136,"f":297.5},{"s":1,"w":4140,"f":293},{"s":1,"w":4145,"f":296},{"s":1,"w":4150,"f":300},{"s":1,"w":4155,"f":297},{"s":1,"w":4160,"f":294},{"s":1,"w":4165,"f":291},{"s":1,"w":4170,"f":293.5},{"s":1,"w":4175,"f":290},{"s":1,"w":4180,"f":295},{"s":1,"w":4185,"f":292},{"s":1,"w":4190,"f":289.5},{"s":1,"w":4195,"f":292},{"s":1,"w":4200,"f":294},{"s":1,"w":4206,"f":290},{"s":1,"w":4212,"f":288.5},{"s":1,"w":4218,"f":291.5},{"s":1,"w":4224,"f":293},{"s":1,"w":4230,"f":289},{"s":1,"w":4236,"f":287.5},{"s":1,"w":4242,"f":290.5},{"s":1,"w":4248,"f":292},{"s":1,"w":4254,"f":289},{"s":1,"w":4260,"f":287},{"s":1,"w":4266,"f":290},{"s":1,"w":4272,"f":291.5},{"s":1,"w":4278,"f":288.5},{"s":1,"w":4284,"f":287},{"s":1,"w":4290,"f":289.5},{"s":1,"w":4296,"f":290.5},{"s":1,"w":4302,"f":287.5},{"s":1,"w":4308,"f":288.5},{"s":1,"w":4314,"f":290},{"s":1,"w":4320,"f":288},{"s":1,"w":4326,"f":289.5},{"s":1,"w":4332,"f":287},{"s":1,"w":4338,"f":288.5},{"s":1,"w":4344,"f":290},{"s":1,"w":4350,"f":287.5},{"s":1,"w":4356,"f":288.5},{"s":1,"w":4362,"f":287},{"s":1,"w":4368,"f":289},{"s":1,"w":4374,"f":287.5},{"s":1,"w":4380,"f":288.5},{"s":1,"w":4390,"f":287},{"s":1,"w":4400,"f":288},{"s":1,"w":4410,"f":286},{"s":1,"w":4430,"f":287},{"s":1,"w":4450,"f":286},{"s":1,"w":4470,"f":287},{"s":1,"w":4490,"f":286},{"s":1,"w":4510,"f":286.5},{"s":1,"w":4530,"f":285.5},{"s":1,"w":4550,"f":286.5},{"s":1,"w":4568,"f":286},{"s":1,"w":4572,"f":287.5},{"s":1,"w":4576,"f":285.5},{"s":1,"w":4600,"f":286},{"s":1,"w":4630,"f":286.5},{"s":1,"w":4660,"f":287},{"s":1,"w":4690,"f":287.5},{"s":1,"w":4720,"f":288},{"s":1,"w":4745,"f":290},{"s":1,"w":4752,"f":285},{"s":1,"w":4780,"f":285.5},{"s":1,"w":4810,"f":286},{"s":1,"w":4840,"f":286.5},{"s":1,"w":4865,"f":287.5},{"s":1,"w":4890,"f":289},{"s":1,"w":4910,"f":291.5},{"s":1,"w":4925,"f":294},{"s":1,"w":4938,"f":297},{"s":1,"w":4948,"f":300},{"s":1,"w":4952,"f":284},{"s":1,"w":4975,"f":285},{"s":1,"w":5000,"f":287},{"s":1,"w":5025,"f":288.5},{"s":1,"w":5050,"f":290},{"s":1,"w":5060,"f":292},{"s":1,"w":5070,"f":290},{"s":1,"w":5095,"f":293},{"s":1,"w":5120,"f":296},{"s":1,"w":5135,"f":298},{"s":1,"w":5145,"f":301},{"s":1,"w":5152,"f":299},{"s":1,"w":5162,"f":305},{"s":1,"w":5166,"f":285},{"s":1,"w":5185,"f":288},{"s":1,"w":5210,"f":289.5},{"s":1,"w":5235,"f":290.5},{"s":1,"w":5260,"f":292},{"s":1,"w":5275,"f":294},{"s":1,"w":5285,"f":292},{"s":1,"w":5310,"f":293.5},{"s":1,"w":5335,"f":295},{"s":1,"w":5350,"f":297},{"s":1,"w":5360,"f":295},{"s":1,"w":5380,"f":298},{"s":1,"w":5395,"f":300},{"s":1,"w":5405,"f":297},{"s":1,"w":5420,"f":302},{"s":1,"w":5430,"f":300},{"s":1,"w":5442,"f":306.5},{"s":1,"w":5446,"f":290},{"s":1,"w":5460,"f":292},{"s":1,"w":5475,"f":291},{"s":1,"w":5490,"f":293.5},{"s":1,"w":5500,"f":293},
{"s":2,"w":3900,"f":245},{"s":2,"w":3904,"f":243},{"s":2,"w":3908,"f":246},{"s":2,"w":3912,"f":242.5},{"s":2,"w":3916,"f":244},{"s":2,"w":3920,"f":240},{"s":2,"w":3924,"f":243.5},{"s":2,"w":3928,"f":241},{"s":2,"w":3932,"f":239.5},{"s":2,"w":3936,"f":243},{"s":2,"w":3940,"f":241.5},{"s":2,"w":3944,"f":244.5},{"s":2,"w":3948,"f":242},{"s":2,"w":3952,"f":246},{"s":2,"w":3956,"f":243.5},{"s":2,"w":3960,"f":245},{"s":2,"w":3964,"f":248},{"s":2,"w":3968,"f":244},{"s":2,"w":3972,"f":246.5},{"s":2,"w":3976,"f":249},{"s":2,"w":3980,"f":245.5},{"s":2,"w":3984,"f":247},{"s":2,"w":3988,"f":250},{"s":2,"w":3992,"f":246},{"s":2,"w":3996,"f":248.5},{"s":2,"w":4000,"f":245.5},{"s":2,"w":4004,"f":249.5},{"s":2,"w":4008,"f":251},{"s":2,"w":4012,"f":247},{"s":2,"w":4016,"f":249},{"s":2,"w":4020,"f":252},{"s":2,"w":4024,"f":248},{"s":2,"w":4028,"f":250.5},{"s":2,"w":4032,"f":247},{"s":2,"w":4036,"f":251.5},{"s":2,"w":4040,"f":249},{"s":2,"w":4044,"f":253},{"s":2,"w":4048,"f":248.5},{"s":2,"w":4052,"f":250},{"s":2,"w":4056,"f":252.5},{"s":2,"w":4060,"f":248},{"s":2,"w":4064,"f":250.5},{"s":2,"w":4068,"f":247.5},{"s":2,"w":4072,"f":251},{"s":2,"w":4076,"f":249},{"s":2,"w":4080,"f":252},{"s":2,"w":4084,"f":248},{"s":2,"w":4088,"f":250},{"s":2,"w":4092,"f":247.5},{"s":2,"w":4096,"f":250},{"s":2,"w":4099,"f":249},{"s":2,"w":4101,"f":285},{"s":2,"w":4104,"f":249},{"s":2,"w":4112,"f":246.5},{"s":2,"w":4120,"f":248.5},{"s":2,"w":4130,"f":245.5},{"s":2,"w":4140,"f":247.5},{"s":2,"w":4152,"f":250.5},{"s":2,"w":4162,"f":246},{"s":2,"w":4175,"f":244},{"s":2,"w":4187,"f":247},{"s":2,"w":4200,"f":243.5},{"s":2,"w":4212,"f":241.5},{"s":2,"w":4224,"f":245},{"s":2,"w":4236,"f":241.5},{"s":2,"w":4248,"f":244},{"s":2,"w":4262,"f":241},{"s":2,"w":4275,"f":243.5},{"s":2,"w":4290,"f":241},{"s":2,"w":4305,"f":243},{"s":2,"w":4320,"f":240.5},{"s":2,"w":4335,"f":242.5},{"s":2,"w":4350,"f":240.5},{"s":2,"w":4365,"f":242},{"s":2,"w":4380,"f":240.5},{"s":2,"w":4400,"f":241},{"s":2,"w":4425,"f":239.5},{"s":2,"w":4450,"f":240.5},{"s":2,"w":4475,"f":239.5},{"s":2,"w":4500,"f":240},{"s":2,"w":4525,"f":239},{"s":2,"w":4550,"f":240},{"s":2,"w":4572,"f":239.5},{"s":2,"w":4600,"f":240},{"s":2,"w":4630,"f":240.5},{"s":2,"w":4660,"f":241},{"s":2,"w":4690,"f":241},{"s":2,"w":4720,"f":242},{"s":2,"w":4745,"f":243.5},{"s":2,"w":4752,"f":238.5},{"s":2,"w":4780,"f":239},{"s":2,"w":4810,"f":239.5},{"s":2,"w":4840,"f":240},{"s":2,"w":4865,"f":240.5},{"s":2,"w":4890,"f":242.5},{"s":2,"w":4910,"f":245},{"s":2,"w":4925,"f":247.5},{"s":2,"w":4938,"f":250.5},{"s":2,"w":4948,"f":255},{"s":2,"w":4952,"f":238.5},{"s":2,"w":4975,"f":239.5},{"s":2,"w":5000,"f":241},{"s":2,"w":5025,"f":242.5},{"s":2,"w":5050,"f":244},{"s":2,"w":5060,"f":245.5},{"s":2,"w":5070,"f":244},{"s":2,"w":5095,"f":247},{"s":2,"w":5120,"f":250},{"s":2,"w":5135,"f":252.5},{"s":2,"w":5145,"f":255},{"s":2,"w":5152,"f":253},{"s":2,"w":5162,"f":260},{"s":2,"w":5166,"f":238.5},{"s":2,"w":5185,"f":241.5},{"s":2,"w":5210,"f":243},{"s":2,"w":5235,"f":244},{"s":2,"w":5260,"f":245.5},{"s":2,"w":5275,"f":247.5},{"s":2,"w":5285,"f":245.5},{"s":2,"w":5310,"f":247},{"s":2,"w":5335,"f":248.5},{"s":2,"w":5350,"f":250.5},{"s":2,"w":5360,"f":248.5},{"s":2,"w":5380,"f":251},{"s":2,"w":5395,"f":253},{"s":2,"w":5405,"f":250.5},{"s":2,"w":5420,"f":254.5},{"s":2,"w":5430,"f":252.5},{"s":2,"w":5442,"f":258.5},{"s":2,"w":5446,"f":241.5},{"s":2,"w":5460,"f":243.5},{"s":2,"w":5475,"f":243},{"s":2,"w":5490,"f":245.5},{"s":2,"w":5500,"f":246},
{"s":3,"w":3900,"f":203.5},{"s":3,"w":3904,"f":201},{"s":3,"w":3908,"f":204.5},{"s":3,"w":3912,"f":200},{"s":3,"w":3916,"f":202.5},{"s":3,"w":3920,"f":199},{"s":3,"w":3924,"f":203},{"s":3,"w":3928,"f":205},{"s":3,"w":3932,"f":200.5},{"s":3,"w":3936,"f":202},{"s":3,"w":3940,"f":198.5},{"s":3,"w":3944,"f":203.5},{"s":3,"w":3948,"f":201},{"s":3,"w":3952,"f":204},{"s":3,"w":3956,"f":199.5},{"s":3,"w":3960,"f":202.5},{"s":3,"w":3964,"f":205},{"s":3,"w":3968,"f":201},{"s":3,"w":3972,"f":203},{"s":3,"w":3976,"f":199.5},{"s":3,"w":3980,"f":204},{"s":3,"w":3984,"f":202},{"s":3,"w":3988,"f":205.5},{"s":3,"w":3992,"f":200.5},{"s":3,"w":3996,"f":203},{"s":3,"w":4000,"f":201.5},{"s":3,"w":4004,"f":205},{"s":3,"w":4008,"f":202},{"s":3,"w":4012,"f":200},{"s":3,"w":4016,"f":204.5},{"s":3,"w":4020,"f":202.5},{"s":3,"w":4024,"f":205.5},{"s":3,"w":4028,"f":201},{"s":3,"w":4032,"f":203.5},{"s":3,"w":4036,"f":200.5},{"s":3,"w":4040,"f":204},{"s":3,"w":4044,"f":202},{"s":3,"w":4048,"f":205},{"s":3,"w":4052,"f":201.5},{"s":3,"w":4056,"f":203},{"s":3,"w":4060,"f":206},{"s":3,"w":4064,"f":201},{"s":3,"w":4068,"f":203.5},{"s":3,"w":4072,"f":200.5},{"s":3,"w":4076,"f":204},{"s":3,"w":4080,"f":202.5},{"s":3,"w":4084,"f":205},{"s":3,"w":4088,"f":201.5},{"s":3,"w":4092,"f":203.5},{"s":3,"w":4096,"f":201},{"s":3,"w":4099,"f":203},{"s":3,"w":4102,"f":207.5},{"s":3,"w":4106,"f":202.5},{"s":3,"w":4111,"f":200.5},{"s":3,"w":4116,"f":203.5},{"s":3,"w":4121,"f":201},{"s":3,"w":4126,"f":199.5},{"s":3,"w":4131,"f":203},{"s":3,"w":4136,"f":200},{"s":3,"w":4141,"f":202.5},{"s":3,"w":4146,"f":198.5},{"s":3,"w":4151,"f":201.5},{"s":3,"w":4156,"f":203.5},{"s":3,"w":4161,"f":199.5},{"s":3,"w":4166,"f":202},{"s":3,"w":4171,"f":200},{"s":3,"w":4176,"f":198},{"s":3,"w":4181,"f":201.5},{"s":3,"w":4186,"f":199},{"s":3,"w":4191,"f":202},{"s":3,"w":4196,"f":198.5},{"s":3,"w":4201,"f":203},{"s":3,"w":4206,"f":199},{"s":3,"w":4211,"f":197.5},{"s":3,"w":4216,"f":200.5},{"s":3,"w":4221,"f":198},{"s":3,"w":4226,"f":201},{"s":3,"w":4231,"f":199.5},{"s":3,"w":4236,"f":197},{"s":3,"w":4241,"f":200},{"s":3,"w":4246,"f":198.5},{"s":3,"w":4251,"f":201},{"s":3,"w":4256,"f":197.5},{"s":3,"w":4261,"f":199.5},{"s":3,"w":4266,"f":200.5},{"s":3,"w":4271,"f":197.5},{"s":3,"w":4276,"f":199},{"s":3,"w":4281,"f":201},{"s":3,"w":4286,"f":198},{"s":3,"w":4291,"f":199.5},{"s":3,"w":4296,"f":198},{"s":3,"w":4301,"f":199},{"s":3,"w":4305,"f":210.5},{"s":3,"w":4309,"f":199.5},{"s":3,"w":4318,"f":201.5},{"s":3,"w":4326,"f":199},{"s":3,"w":4334,"f":201.5},{"s":3,"w":4338,"f":206.5},{"s":3,"w":4342,"f":201},{"s":3,"w":4350,"f":203},{"s":3,"w":4356,"f":206},{"s":3,"w":4362,"f":200.5},{"s":3,"w":4370,"f":202.5},{"s":3,"w":4378,"f":200},{"s":3,"w":4386,"f":202},{"s":3,"w":4394,"f":199},{"s":3,"w":4402,"f":200.5},{"s":3,"w":4412,"f":198},{"s":3,"w":4424,"f":199},{"s":3,"w":4436,"f":197.5},{"s":3,"w":4448,"f":199},{"s":3,"w":4460,"f":197.5},{"s":3,"w":4472,"f":198.5},{"s":3,"w":4484,"f":197},{"s":3,"w":4496,"f":198.5},{"s":3,"w":4508,"f":197},{"s":3,"w":4520,"f":198.5},{"s":3,"w":4532,"f":197},{"s":3,"w":4544,"f":198.5},{"s":3,"w":4556,"f":197.5},{"s":3,"w":4566,"f":198.5},{"s":3,"w":4571,"f":210.5},{"s":3,"w":4576,"f":198},{"s":3,"w":4590,"f":197},{"s":3,"w":4610,"f":198},{"s":3,"w":4630,"f":197},{"s":3,"w":4650,"f":198},{"s":3,"w":4670,"f":197.5},{"s":3,"w":4690,"f":198.5},{"s":3,"w":4710,"f":199},{"s":3,"w":4730,"f":200},{"s":3,"w":4745,"f":201.5},{"s":3,"w":4752,"f":196},{"s":3,"w":4775,"f":197},{"s":3,"w":4800,"f":196.5},{"s":3,"w":4825,"f":197},{"s":3,"w":4845,"f":196.5},{"s":3,"w":4857,"f":197.5},{"s":3,"w":4861,"f":207.5},{"s":3,"w":4865,"f":198},{"s":3,"w":4885,"f":200},{"s":3,"w":4900,"f":201.5},{"s":3,"w":4912,"f":204},{"s":3,"w":4920,"f":210},{"s":3,"w":4926,"f":204},{"s":3,"w":4938,"f":207},{"s":3,"w":4948,"f":210.5},{"s":3,"w":4952,"f":195},{"s":3,"w":4975,"f":196},{"s":3,"w":5000,"f":197.5},{"s":3,"w":5025,"f":199},{"s":3,"w":5050,"f":200.5},{"s":3,"w":5060,"f":203},{"s":3,"w":5070,"f":201},{"s":3,"w":5095,"f":203.5},{"s":3,"w":5120,"f":206.5},{"s":3,"w":5135,"f":208.5},{"s":3,"w":5145,"f":210.5},{"s":3,"w":5152,"f":209},{"s":3,"w":5162,"f":214},{"s":3,"w":5166,"f":196.5},{"s":3,"w":5185,"f":198.5},{"s":3,"w":5210,"f":200},{"s":3,"w":5235,"f":201.5},{"s":3,"w":5260,"f":203.5},{"s":3,"w":5275,"f":206},{"s":3,"w":5285,"f":203.5},{"s":3,"w":5310,"f":205.5},{"s":3,"w":5330,"f":208},{"s":3,"w":5340,"f":206},{"s":3,"w":5360,"f":209.5},{"s":3,"w":5375,"f":208},{"s":3,"w":5390,"f":212},{"s":3,"w":5400,"f":209.5},{"s":3,"w":5415,"f":215},{"s":3,"w":5425,"f":212},{"s":3,"w":5435,"f":217},{"s":3,"w":5442,"f":221.5},{"s":3,"w":5446,"f":200},{"s":3,"w":5455,"f":204},{"s":3,"w":5465,"f":199.5},{"s":3,"w":5480,"f":202},{"s":3,"w":5490,"f":200.5},{"s":3,"w":5500,"f":200.5},
{"s":4,"w":3900,"f":150},{"s":4,"w":3910,"f":148.5},{"s":4,"w":3920,"f":151},{"s":4,"w":3930,"f":148},{"s":4,"w":3940,"f":150.5},{"s":4,"w":3955,"f":149},{"s":4,"w":3970,"f":151.5},{"s":4,"w":3985,"f":150.5},{"s":4,"w":4000,"f":152.5},{"s":4,"w":4015,"f":151},{"s":4,"w":4030,"f":153},{"s":4,"w":4045,"f":152},{"s":4,"w":4060,"f":153.5},{"s":4,"w":4075,"f":152.5},{"s":4,"w":4090,"f":153.5},{"s":4,"w":4098,"f":153},{"s":4,"w":4102,"f":156},{"s":4,"w":4106,"f":153},{"s":4,"w":4120,"f":152},{"s":4,"w":4135,"f":153},{"s":4,"w":4150,"f":154},{"s":4,"w":4160,"f":151.5},{"s":4,"w":4175,"f":152},{"s":4,"w":4190,"f":151},{"s":4,"w":4200,"f":152},{"s":4,"w":4212,"f":146.5},{"s":4,"w":4225,"f":150},{"s":4,"w":4240,"f":148.5},{"s":4,"w":4255,"f":150.5},{"s":4,"w":4270,"f":148.5},{"s":4,"w":4285,"f":150},{"s":4,"w":4300,"f":148},{"s":4,"w":4315,"f":149.5},{"s":4,"w":4330,"f":148},{"s":4,"w":4345,"f":149.5},{"s":4,"w":4360,"f":148},{"s":4,"w":4380,"f":149},{"s":4,"w":4400,"f":147.5},{"s":4,"w":4430,"f":148},{"s":4,"w":4460,"f":147},{"s":4,"w":4490,"f":147.5},{"s":4,"w":4520,"f":147},{"s":4,"w":4550,"f":147.5},{"s":4,"w":4575,"f":148.5},{"s":4,"w":4600,"f":147.5},{"s":4,"w":4630,"f":147.5},{"s":4,"w":4660,"f":148},{"s":4,"w":4690,"f":148.5},{"s":4,"w":4720,"f":149},{"s":4,"w":4745,"f":150.5},{"s":4,"w":4752,"f":146},{"s":4,"w":4780,"f":146.5},{"s":4,"w":4810,"f":147},{"s":4,"w":4840,"f":147.5},{"s":4,"w":4865,"f":148},{"s":4,"w":4890,"f":150},{"s":4,"w":4910,"f":152},{"s":4,"w":4925,"f":154.5},{"s":4,"w":4938,"f":158},{"s":4,"w":4948,"f":162.5},{"s":4,"w":4952,"f":146.5},{"s":4,"w":4975,"f":148},{"s":4,"w":5000,"f":150},{"s":4,"w":5025,"f":151.5},{"s":4,"w":5050,"f":153.5},{"s":4,"w":5060,"f":155.5},{"s":4,"w":5070,"f":154},{"s":4,"w":5095,"f":157.5},{"s":4,"w":5120,"f":161},{"s":4,"w":5135,"f":163},{"s":4,"w":5145,"f":165.5},{"s":4,"w":5152,"f":163.5},{"s":4,"w":5162,"f":168.5},{"s":4,"w":5166,"f":147.5},{"s":4,"w":5185,"f":150.5},{"s":4,"w":5210,"f":152},{"s":4,"w":5235,"f":153},{"s":4,"w":5260,"f":154.5},{"s":4,"w":5275,"f":156.5},{"s":4,"w":5285,"f":154.5},{"s":4,"w":5310,"f":156},{"s":4,"w":5335,"f":157.5},{"s":4,"w":5350,"f":159.5},{"s":4,"w":5360,"f":157.5},{"s":4,"w":5380,"f":160},{"s":4,"w":5395,"f":162},{"s":4,"w":5405,"f":159.5},{"s":4,"w":5420,"f":163},{"s":4,"w":5430,"f":161},{"s":4,"w":5442,"f":165},{"s":4,"w":5446,"f":152.5},{"s":4,"w":5460,"f":154},{"s":4,"w":5475,"f":153.5},{"s":4,"w":5490,"f":155.5},{"s":4,"w":5500,"f":155},
{"s":5,"w":3900,"f":108.5},{"s":5,"w":3910,"f":106.5},{"s":5,"w":3920,"f":105},{"s":5,"w":3930,"f":109},{"s":5,"w":3940,"f":107},{"s":5,"w":3955,"f":110.5},{"s":5,"w":3970,"f":109.5},{"s":5,"w":3985,"f":111.5},{"s":5,"w":4000,"f":110.5},{"s":5,"w":4015,"f":112},{"s":5,"w":4030,"f":111},{"s":5,"w":4045,"f":112.5},{"s":5,"w":4060,"f":111.5},{"s":5,"w":4075,"f":112.5},{"s":5,"w":4090,"f":111.5},{"s":5,"w":4098,"f":112.5},{"s":5,"w":4102,"f":118.5},{"s":5,"w":4106,"f":111.5},{"s":5,"w":4120,"f":109.5},{"s":5,"w":4135,"f":111},{"s":5,"w":4150,"f":112.5},{"s":5,"w":4162,"f":109},{"s":5,"w":4175,"f":110},{"s":5,"w":4190,"f":108.5},{"s":5,"w":4200,"f":109.5},{"s":5,"w":4212,"f":105},{"s":5,"w":4225,"f":108.5},{"s":5,"w":4240,"f":107},{"s":5,"w":4255,"f":108.5},{"s":5,"w":4270,"f":107},{"s":5,"w":4285,"f":108.5},{"s":5,"w":4300,"f":107},{"s":5,"w":4315,"f":108},{"s":5,"w":4330,"f":106.5},{"s":5,"w":4340,"f":109},{"s":5,"w":4350,"f":107},{"s":5,"w":4370,"f":108},{"s":5,"w":4390,"f":106.5},{"s":5,"w":4420,"f":107},{"s":5,"w":4450,"f":106},{"s":5,"w":4480,"f":106.5},{"s":5,"w":4510,"f":106},{"s":5,"w":4540,"f":106.5},{"s":5,"w":4570,"f":106},{"s":5,"w":4600,"f":106.5},{"s":5,"w":4630,"f":107},{"s":5,"w":4660,"f":107.5},{"s":5,"w":4690,"f":107.5},{"s":5,"w":4720,"f":108},{"s":5,"w":4745,"f":109.5},{"s":5,"w":4752,"f":105},{"s":5,"w":4780,"f":105.5},{"s":5,"w":4810,"f":106},{"s":5,"w":4840,"f":106.5},{"s":5,"w":4865,"f":107},{"s":5,"w":4890,"f":109},{"s":5,"w":4910,"f":110.5},{"s":5,"w":4925,"f":112.5},{"s":5,"w":4938,"f":115},{"s":5,"w":4948,"f":118.5},{"s":5,"w":4952,"f":103.5},{"s":5,"w":4975,"f":105},{"s":5,"w":5000,"f":106.5},{"s":5,"w":5025,"f":108},{"s":5,"w":5050,"f":110},{"s":5,"w":5060,"f":111.5},{"s":5,"w":5070,"f":110},{"s":5,"w":5095,"f":113},{"s":5,"w":5120,"f":116},{"s":5,"w":5135,"f":118},{"s":5,"w":5145,"f":120},{"s":5,"w":5152,"f":118.5},{"s":5,"w":5162,"f":123.5},{"s":5,"w":5166,"f":105},{"s":5,"w":5185,"f":108},{"s":5,"w":5210,"f":109.5},{"s":5,"w":5235,"f":110.5},{"s":5,"w":5260,"f":112},{"s":5,"w":5275,"f":114},{"s":5,"w":5285,"f":112},{"s":5,"w":5310,"f":114},{"s":5,"w":5335,"f":116},{"s":5,"w":5350,"f":118},{"s":5,"w":5360,"f":116},{"s":5,"w":5380,"f":119},{"s":5,"w":5395,"f":121},{"s":5,"w":5405,"f":118.5},{"s":5,"w":5420,"f":122.5},{"s":5,"w":5430,"f":120.5},{"s":5,"w":5442,"f":126},{"s":5,"w":5446,"f":111.5},{"s":5,"w":5460,"f":113},{"s":5,"w":5475,"f":112.5},{"s":5,"w":5490,"f":114},{"s":5,"w":5500,"f":113.5},
{"s":6,"w":3900,"f":63.5},{"s":6,"w":3910,"f":61.5},{"s":6,"w":3920,"f":64},{"s":6,"w":3930,"f":60},{"s":6,"w":3940,"f":63.5},{"s":6,"w":3955,"f":62},{"s":6,"w":3970,"f":65.5},{"s":6,"w":3985,"f":65},{"s":6,"w":4000,"f":67.5},{"s":6,"w":4015,"f":66.5},{"s":6,"w":4030,"f":68},{"s":6,"w":4045,"f":67},{"s":6,"w":4060,"f":68.5},{"s":6,"w":4075,"f":67.5},{"s":6,"w":4090,"f":68.5},{"s":6,"w":4099,"f":68},{"s":6,"w":4101,"f":118.5},{"s":6,"w":4104,"f":67.5},{"s":6,"w":4120,"f":66},{"s":6,"w":4135,"f":67},{"s":6,"w":4150,"f":68.5},{"s":6,"w":4162,"f":65.5},{"s":6,"w":4175,"f":66},{"s":6,"w":4190,"f":65},{"s":6,"w":4200,"f":66},{"s":6,"w":4212,"f":61.5},{"s":6,"w":4225,"f":64.5},{"s":6,"w":4240,"f":63},{"s":6,"w":4255,"f":64.5},{"s":6,"w":4270,"f":63},{"s":6,"w":4285,"f":64.5},{"s":6,"w":4300,"f":63},{"s":6,"w":4315,"f":64},{"s":6,"w":4330,"f":62.5},{"s":6,"w":4338,"f":63.5},{"s":6,"w":4341,"f":88.5},{"s":6,"w":4344,"f":63.5},{"s":6,"w":4360,"f":62.5},{"s":6,"w":4380,"f":63.5},{"s":6,"w":4400,"f":62},{"s":6,"w":4430,"f":62.5},{"s":6,"w":4460,"f":61.5},{"s":6,"w":4490,"f":62},{"s":6,"w":4520,"f":61.5},{"s":6,"w":4550,"f":62},{"s":6,"w":4575,"f":63},{"s":6,"w":4600,"f":61.5},{"s":6,"w":4630,"f":62},{"s":6,"w":4660,"f":62.5},{"s":6,"w":4690,"f":62.5},{"s":6,"w":4720,"f":63},{"s":6,"w":4745,"f":64},{"s":6,"w":4752,"f":58.5},{"s":6,"w":4780,"f":60},{"s":6,"w":4810,"f":61},{"s":6,"w":4840,"f":61.5},{"s":6,"w":4865,"f":61.5},{"s":6,"w":4890,"f":63.5},{"s":6,"w":4910,"f":65.5},{"s":6,"w":4925,"f":67.5},{"s":6,"w":4938,"f":70.5},{"s":6,"w":4948,"f":74},{"s":6,"w":4952,"f":59.5},{"s":6,"w":4975,"f":61},{"s":6,"w":5000,"f":63},{"s":6,"w":5025,"f":64.5},{"s":6,"w":5050,"f":67},{"s":6,"w":5060,"f":69},{"s":6,"w":5070,"f":67.5},{"s":6,"w":5095,"f":71},{"s":6,"w":5120,"f":75},{"s":6,"w":5135,"f":77.5},{"s":6,"w":5145,"f":80},{"s":6,"w":5152,"f":78},{"s":6,"w":5162,"f":83.5},{"s":6,"w":5166,"f":60},{"s":6,"w":5185,"f":63.5},{"s":6,"w":5210,"f":65.5},{"s":6,"w":5235,"f":66.5},{"s":6,"w":5260,"f":68.5},{"s":6,"w":5275,"f":71},{"s":6,"w":5285,"f":69},{"s":6,"w":5310,"f":71},{"s":6,"w":5335,"f":73},{"s":6,"w":5350,"f":75.5},{"s":6,"w":5360,"f":73.5},{"s":6,"w":5380,"f":76.5},{"s":6,"w":5395,"f":78.5},{"s":6,"w":5405,"f":76},{"s":6,"w":5420,"f":80},{"s":6,"w":5430,"f":78},{"s":6,"w":5442,"f":83.5},{"s":6,"w":5446,"f":65},{"s":6,"w":5460,"f":66.5},{"s":6,"w":5475,"f":66},{"s":6,"w":5490,"f":68},{"s":6,"w":5500,"f":68.5},
{"s":7,"w":3900,"f":28.5},{"s":7,"w":3904,"f":25},{"s":7,"w":3908,"f":21},{"s":7,"w":3911,"f":18.5},{"s":7,"w":3915,"f":22},{"s":7,"w":3919,"f":25.5},{"s":7,"w":3923,"f":20.5},{"s":7,"w":3927,"f":23},{"s":7,"w":3931,"f":26},{"s":7,"w":3935,"f":21},{"s":7,"w":3939,"f":19},{"s":7,"w":3943,"f":23.5},{"s":7,"w":3946,"f":16.5},{"s":7,"w":3950,"f":21},{"s":7,"w":3954,"f":24},{"s":7,"w":3958,"f":19.5},{"s":7,"w":3962,"f":23},{"s":7,"w":3966,"f":27},{"s":7,"w":3970,"f":22.5},{"s":7,"w":3974,"f":25},{"s":7,"w":3978,"f":28.5},{"s":7,"w":3982,"f":24},{"s":7,"w":3986,"f":27},{"s":7,"w":3990,"f":30.5},{"s":7,"w":3994,"f":25.5},{"s":7,"w":3998,"f":28},{"s":7,"w":4002,"f":31.5},{"s":7,"w":4006,"f":27},{"s":7,"w":4010,"f":29},{"s":7,"w":4014,"f":32},{"s":7,"w":4018,"f":27.5},{"s":7,"w":4022,"f":30},{"s":7,"w":4026,"f":33},{"s":7,"w":4030,"f":28},{"s":7,"w":4034,"f":31},{"s":7,"w":4038,"f":29},{"s":7,"w":4042,"f":33.5},{"s":7,"w":4046,"f":30},{"s":7,"w":4050,"f":28},{"s":7,"w":4054,"f":32},{"s":7,"w":4058,"f":29.5},{"s":7,"w":4062,"f":33},{"s":7,"w":4066,"f":28.5},{"s":7,"w":4070,"f":31},{"s":7,"w":4074,"f":35},{"s":7,"w":4078,"f":29},{"s":7,"w":4082,"f":32.5},{"s":7,"w":4086,"f":30},{"s":7,"w":4090,"f":33},{"s":7,"w":4094,"f":30.5},{"s":7,"w":4098,"f":32},{"s":7,"w":4101,"f":41.5},{"s":7,"w":4105,"f":30},{"s":7,"w":4112,"f":27.5},{"s":7,"w":4120,"f":30},{"s":7,"w":4130,"f":26.5},{"s":7,"w":4140,"f":29},{"s":7,"w":4150,"f":32},{"s":7,"w":4160,"f":26.5},{"s":7,"w":4172,"f":28},{"s":7,"w":4185,"f":24},{"s":7,"w":4197,"f":25.5},{"s":7,"w":4210,"f":19},{"s":7,"w":4222,"f":22},{"s":7,"w":4235,"f":19.5},{"s":7,"w":4248,"f":21.5},{"s":7,"w":4262,"f":18.5},{"s":7,"w":4275,"f":20.5},{"s":7,"w":4290,"f":17.5},{"s":7,"w":4305,"f":19},{"s":7,"w":4320,"f":16.5},{"s":7,"w":4335,"f":18},{"s":7,"w":4350,"f":16},{"s":7,"w":4365,"f":17.5},{"s":7,"w":4380,"f":15.5},{"s":7,"w":4400,"f":16.5},{"s":7,"w":4425,"f":14.5},{"s":7,"w":4450,"f":15.5},{"s":7,"w":4475,"f":14},{"s":7,"w":4500,"f":15},{"s":7,"w":4525,"f":14},{"s":7,"w":4550,"f":14.5},{"s":7,"w":4572,"f":14},{"s":7,"w":4600,"f":13.5},{"s":7,"w":4630,"f":14},{"s":7,"w":4660,"f":14.5},{"s":7,"w":4690,"f":14.5},{"s":7,"w":4720,"f":15.5},{"s":7,"w":4745,"f":17.5},{"s":7,"w":4752,"f":12.5},{"s":7,"w":4780,"f":13},{"s":7,"w":4810,"f":13.5},{"s":7,"w":4840,"f":14},{"s":7,"w":4865,"f":14.5},{"s":7,"w":4890,"f":16},{"s":7,"w":4910,"f":18},{"s":7,"w":4925,"f":20.5},{"s":7,"w":4938,"f":24.5},{"s":7,"w":4948,"f":30.5},{"s":7,"w":4952,"f":13.5},{"s":7,"w":4975,"f":15},{"s":7,"w":5000,"f":16.5},{"s":7,"w":5025,"f":18},{"s":7,"w":5050,"f":20},{"s":7,"w":5060,"f":22},{"s":7,"w":5070,"f":20},{"s":7,"w":5095,"f":23},{"s":7,"w":5120,"f":26},{"s":7,"w":5135,"f":28},{"s":7,"w":5145,"f":30},{"s":7,"w":5152,"f":28},{"s":7,"w":5162,"f":33.5},{"s":7,"w":5166,"f":13.5},{"s":7,"w":5185,"f":17},{"s":7,"w":5210,"f":18.5},{"s":7,"w":5235,"f":19.5},{"s":7,"w":5260,"f":21},{"s":7,"w":5275,"f":23.5},{"s":7,"w":5285,"f":21.5},{"s":7,"w":5310,"f":23.5},{"s":7,"w":5335,"f":25.5},{"s":7,"w":5350,"f":28},{"s":7,"w":5360,"f":26},{"s":7,"w":5380,"f":29},{"s":7,"w":5395,"f":31.5},{"s":7,"w":5405,"f":29},{"s":7,"w":5420,"f":33.5},{"s":7,"w":5430,"f":31},{"s":7,"w":5442,"f":38.5},{"s":7,"w":5446,"f":20.5},{"s":7,"w":5460,"f":22.5},{"s":7,"w":5475,"f":21.5},{"s":7,"w":5490,"f":23.5},{"s":7,"w":5500,"f":21.5}
]
},
"hconcat":[
{"width":314,"height":320,
"layer":[
{"data":{"name":"L"},"mark":{"type":"line","color":"#0000ff","strokeWidth":1,"clip":true},
"encoding":{"x":{"field":"w","type":"quantitative","scale":{"domain":[3750,5550],"nice":false,"zero":false},
"axis":{"orient":"bottom","values":[4000,4500,5000,5500],"format":"d","grid":false,"domain":false,"tickSize":-4,"tickColor":"#333","labelPadding":5,"labelFontSize":9.5,"labelColor":"black","labelFont":"DejaVu Sans","labelFlush":false,"title":"λ(Å)","titleFont":"DejaVu Serif","titleFontStyle":"italic","titleFontWeight":"normal","titleFontSize":10,"titleColor":"black","titlePadding":2}},
"y":{"field":"f","type":"quantitative","scale":{"domain":[0,320],"nice":false,"zero":false},
"axis":{"title":"Normalized Flux","labels":false,"ticks":false,"domain":false,"grid":false,"titlePadding":6,"titleFontSize":9,"titleFontWeight":"normal","titleColor":"black","titleFont":"DejaVu Sans"}},
"detail":{"field":"s","type":"nominal"}}},
{"data":{"name":"bands"},"mark":{"type":"rule","strokeWidth":3,"opacity":0.5},
"encoding":{"x":{"field":"w","type":"quantitative","axis":{"orient":"top","values":[4000,4500,5000,5500],"labels":false,"grid":false,"domain":false,"tickSize":-4,"tickColor":"#333","title":null}},
"color":{"field":"k","type":"nominal","scale":{"domain":["H","X"],"range":["#ffd400","#fa7268"]},"legend":null}}},
{"data":{"name":"labL"},"mark":{"type":"text","align":"right","baseline":"middle","fontSize":9,"font":"DejaVu Sans","color":"black"},
"encoding":{"x":{"field":"w","type":"quantitative","axis":null},"y":{"field":"f","type":"quantitative"},"text":{"field":"t"}}}
],
"resolve":{"axis":{"x":"independent"}}},
{"width":314,"height":320,
"layer":[
{"data":{"name":"R"},"mark":{"type":"line","color":"#0000ff","strokeWidth":1,"clip":true},
"encoding":{"x":{"field":"w","type":"quantitative","scale":{"domain":[3650,5550],"nice":false,"zero":false},
"axis":{"orient":"bottom","values":[4000,4500,5000,5500],"format":"d","grid":false,"domain":false,"tickSize":-4,"tickColor":"#333","labelPadding":5,"labelFontSize":9.5,"labelColor":"black","labelFont":"DejaVu Sans","labelFlush":false,"title":"λ(Å)","titleFont":"DejaVu Serif","titleFontStyle":"italic","titleFontWeight":"normal","titleFontSize":10,"titleColor":"black","titlePadding":2}},
"y":{"field":"f","type":"quantitative","scale":{"domain":[0,320],"nice":false,"zero":false},"axis":null},
"detail":{"field":"s","type":"nominal"}}},
{"data":{"name":"bands"},"mark":{"type":"rule","strokeWidth":3,"opacity":0.5},
"encoding":{"x":{"field":"w","type":"quantitative","axis":{"orient":"top","values":[4000,4500,5000,5500],"labels":false,"grid":false,"domain":false,"tickSize":-4,"tickColor":"#333","title":null}},
"color":{"field":"k","type":"nominal","scale":{"domain":["H","X"],"range":["#ffd400","#fa7268"]},"legend":null}}},
{"data":{"name":"labR"},"mark":{"type":"text","align":"left","baseline":"middle","fontSize":9,"font":"DejaVu Sans","color":"black"},
"encoding":{"x":{"field":"w","type":"quantitative","axis":null},"y":{"field":"f","type":"quantitative","axis":null},"text":{"field":"t"}}}
],
"resolve":{"axis":{"x":"independent"}}}
]
}
